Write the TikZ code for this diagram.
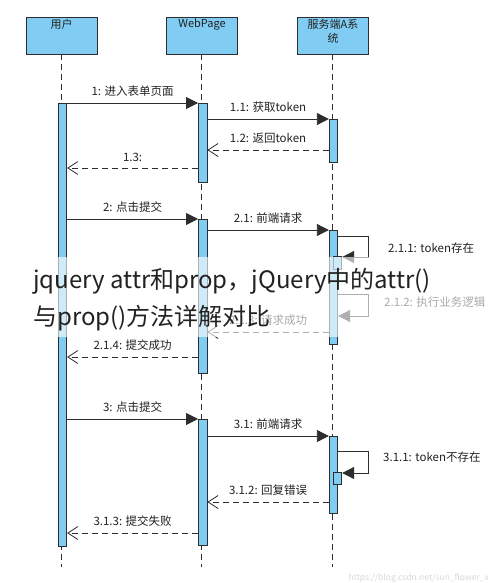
\documentclass[tikz,border=0pt]{standalone}
\usepackage{fontspec}
\setmainfont{Noto Sans CJK SC}
\usetikzlibrary{arrows.meta}
\definecolor{boxblue}{RGB}{128,204,242}
\definecolor{edgec}{RGB}{45,45,45}
\definecolor{txt}{RGB}{34,34,34}
\begin{document}
\begin{tikzpicture}[x=1pt,y=-1pt,
  head/.style={draw=edgec, fill=boxblue, line width=0.8pt, minimum width=71pt, minimum height=37pt, inner sep=0pt},
  htext/.style={font=\fontsize{11}{14}\selectfont, text=txt, align=center, anchor=north, inner sep=0pt},
  life/.style={draw=edgec, line width=0.7pt, dash pattern=on 6pt off 4pt},
  bar/.style={draw=edgec, fill=boxblue, line width=0.8pt, minimum width=8.5pt, inner sep=0pt, anchor=north},
  call/.style={draw=edgec, line width=0.8pt, -{Triangle[length=12pt,width=12pt]}},
  ret/.style={draw=edgec, line width=0.8pt, dash pattern=on 6pt off 4pt, -{Straight Barb[length=10pt,width=13pt]}},
  msg/.style={font=\fontsize{11.5}{13}\selectfont, text=txt, inner sep=0pt, above=6pt},
  selflab/.style={font=\fontsize{11.5}{13}\selectfont, text=txt, inner sep=0pt, anchor=west}
]
\useasboundingbox (0,0) rectangle (490,583);
\fill[white] (0,0) rectangle (490,583);

% headers
\node[head] (hu) at (61.5,35.5) {};
\node[head] (hw) at (202,35.5) {};
\node[head] (hs) at (333,35.5) {};
\node[htext] (tu) at (61.5,19) {用户};
\node[htext] (tw) at (202,19) {WebPage};
\node[htext] (ts) at (333,19.5) {服务端A系\\统};

% lifelines
\coordinate (eu) at (61.5,567);
\coordinate (ew) at (201.5,567);
\coordinate (es) at (332.5,567);
\draw[life] (hu.south) -- (eu);
\draw[life] (hw.south -| ew) -- (ew);
\draw[life] (hs.south -| es) -- (es);

% activation bars
\node[bar, minimum height=443pt] (ub) at (62.5,103) {};
\node[bar, minimum height=79pt] (wb1) at (202.7,103) {};
\node[bar, minimum height=43pt] (sb1) at (333.5,119) {};
\node[bar, minimum height=154pt] (wb2) at (202.7,219) {};
\node[bar, minimum height=114pt] (sb2) at (333.5,230) {};
\node[bar, minimum height=13pt] (n211) at (337.5,256) {};
\node[bar, minimum height=126pt] (wb3) at (202.7,419) {};
\node[bar, minimum height=77pt] (sb3) at (333.5,436) {};
\node[bar, minimum height=12pt] (n311) at (337.5,472) {};

% section 1
\draw[call] (ub.north east) -- (wb1.north west) node[msg, midway] (l1) {1: 进入表单页面};
\draw[call] (wb1.east |- sb1.north) -- (sb1.north west) node[msg, midway] (l11) {1.1: 获取token};
\draw[ret] (sb1.west |- 0,150) -- (wb1.east |- 0,150) node[msg, midway] (l12) {1.2: 返回token};
\draw[ret] (wb1.west |- 0,168) -- (ub.east |- 0,168) node[msg, midway] (l13) {1.3:};

% section 2
\draw[call] (ub.east |- wb2.north) -- (wb2.north west) node[msg, midway] (l2) {2: 点击提交};
\draw[call] (wb2.east |- sb2.north) -- (sb2.north west) node[msg, midway] (l21) {2.1: 前端请求};
\coordinate (k211) at (368,236);
\draw[call] (sb2.east |- k211) -- (k211) |- (n211.east |- 0,257);
\node[selflab] (l211) at (388,248) {2.1.1: token存在};
\coordinate (k212) at (368,294);
\draw[call] (sb2.east |- k212) -- (k212) |- (sb2.east |- 0,316);
\node[selflab] (l212) at (384,302) {2.1.2: 执行业务逻辑};
\draw[ret] (sb2.west |- 0,332) -- (wb2.east |- 0,332) node[msg, midway] (l213) {2.1.3: 请求成功};
\draw[ret] (wb2.west |- 0,357) -- (ub.east |- 0,357) node[msg, midway] (l214) {2.1.4: 提交成功};

% section 3
\draw[call] (ub.east |- wb3.north) -- (wb3.north west) node[msg, midway] (l3) {3: 点击提交};
\draw[call] (wb3.east |- sb3.north) -- (sb3.north west) node[msg, midway] (l31) {3.1: 前端请求};
\coordinate (k311) at (368,451);
\draw[call] (sb3.east |- k311) -- (k311) |- (n311.east |- 0,473);
\node[selflab] (l311) at (383,457) {3.1.1: token不存在};
\draw[ret] (sb3.west |- 0,502) -- (wb3.east |- 0,502) node[msg, midway] (l312) {3.1.2: 回复错误};
\draw[ret] (wb3.west |- 0,533) -- (ub.east |- 0,533) node[msg, midway] (l313) {3.1.3: 提交失败};

% overlay band and title
\fill[white, opacity=0.62] (0,257) rectangle (490,337);
\node[anchor=base west, font=\fontsize{24}{24}\selectfont, text=txt, inner sep=0pt] (ov1) at (33,288) {jquery attr和prop，jQuery中的attr()};
\node[anchor=base west, font=\fontsize{24}{24}\selectfont, text=txt, inner sep=0pt] (ov2) at (33,325) {与prop()方法详解对比};

% watermark
\node[anchor=east, font=\fontsize{8.5}{9}\selectfont, text=black!15, inner sep=0pt] (wm) at (489,578) {https://blog.csdn.net/sun\_flower\_x};
\end{tikzpicture}
\end{document}
